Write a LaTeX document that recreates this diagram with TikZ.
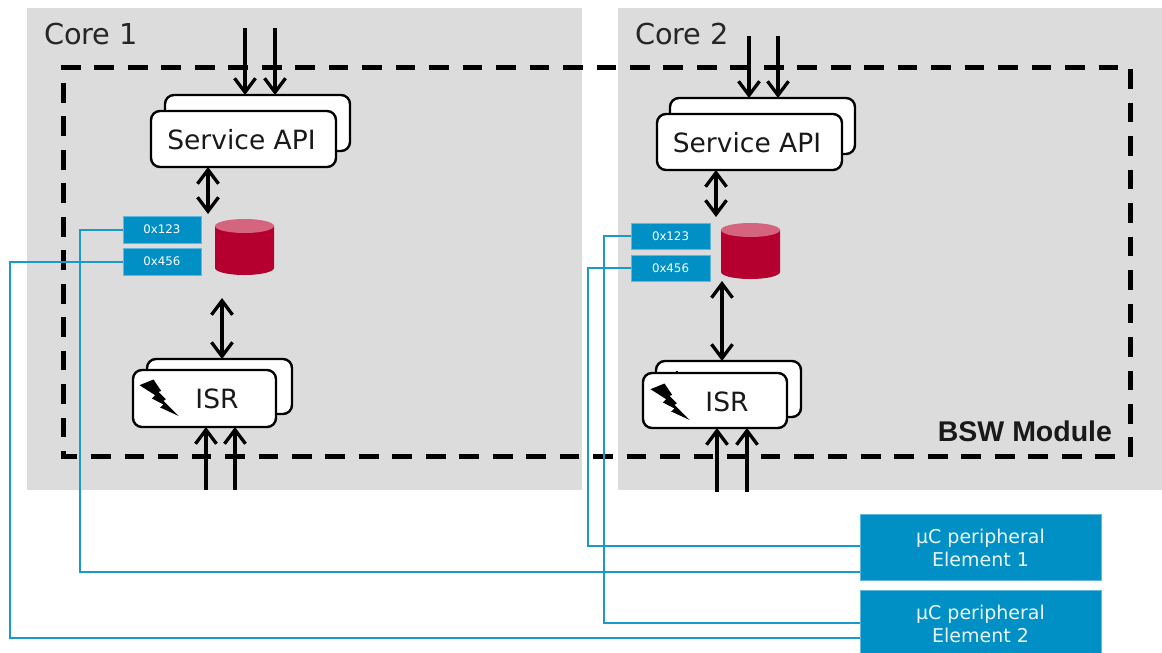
\documentclass[tikz,border=0pt]{standalone}
\usepackage{fontspec}
\setmainfont{DejaVu Sans}
\newfontfamily\armo{Liberation Sans}
\usetikzlibrary{arrows.meta}
\definecolor{coregray}{HTML}{DCDCDC}
\definecolor{ptblue}{HTML}{0090C5}
\definecolor{ptwire}{HTML}{1A9ACB}
\definecolor{ptedge}{HTML}{60B8DC}
\definecolor{cylred}{HTML}{B5002F}
\definecolor{cyltop}{HTML}{D5647F}
\tikzset{
  x=1pt,y=-1pt,
  every node/.style={outer sep=0pt},
  corebox/.style={fill=coregray,draw=none,inner sep=0,anchor=north west},
  corelabel/.style={font=\fontsize{28.8}{32}\selectfont,text=black!85,anchor=west,inner sep=0},
  roundbox/.style={draw=black,line width=2.4pt,fill=white,rounded corners=9pt,inner sep=0,anchor=north west},
  boxtext/.style={font=\fontsize{26.5}{30}\selectfont,text=black!90,inner sep=0},
  tag/.style={fill=ptblue,draw=ptedge,line width=.6pt,inner sep=0,anchor=north west,minimum width=78pt,minimum height=27pt,
     text=white,font=\fontsize{11.8}{13}\selectfont},
  periph/.style={fill=ptblue,draw=ptedge,line width=.6pt,inner sep=0,anchor=north west,minimum width=241pt,
     text=white!92!ptblue,font=\fontsize{19}{23}\selectfont,align=center},
  wire/.style={draw=ptwire,line width=2pt},
  arr/.style={draw=black,line width=3.3pt,-{Straight Barb[length=14pt,width=21pt,line width=3.3pt]}},
  dblarr/.style={draw=black,line width=3.3pt,{Straight Barb[length=14pt,width=21pt,line width=3.3pt]}-{Straight Barb[length=14pt,width=21pt,line width=3.3pt]}},
  dashline/.style={draw=black,line width=5pt,dash pattern=on 19.7pt off 13.77pt},
  bolt/.style={fill=black,draw=none},
}
\newcommand{\cylinderat}[2]{%
  \fill[cylred] (#1,#2+7) -- (#1,#2+49) arc[start angle=180,end angle=360,x radius=29.5pt,y radius=7pt] -- (#1+59,#2+7) -- cycle;
  \fill[cyltop] (#1+29.5,#2+7) ellipse[x radius=29.5pt,y radius=7pt];
}
\newcommand{\boltat}[2]{%
  \fill[bolt] (#1+0,#2+5.7) -- (#1+14,#2+0) -- (#1+21.7,#2+11.4) -- (#1+19,#2+12.4) -- (#1+26.4,#2+19.7) -- (#1+24,#2+21.4) -- (#1+39,#2+36.4)
     -- (#1+20.7,#2+28) -- (#1+24,#2+25) -- (#1+12.4,#2+19) -- (#1+15.7,#2+15.7) -- cycle;
}
\begin{document}
\begin{tikzpicture}
\useasboundingbox (0,0) rectangle (1162,653);
% core panels
\node[corebox,minimum width=555pt,minimum height=482pt] (core1) at (27,8) {};
\node[corebox,minimum width=544pt,minimum height=482pt] (core2) at (618,8) {};
\node[corelabel] (core1t) at (44,34) {Core 1};
\node[corelabel] (core2t) at (635,34) {Core 2};
% dashed module
\draw[dashline] (61,67.5) -- (1119,67.5);
\draw[dashline] (1130,69.3) -- (1130,458.5);
\draw[dashline] (1115,456) -- (61,456);
\draw[dashline] (63.3,83) -- (63.3,458.5);
\node[anchor=east,inner sep=0,font=\armo\bfseries\fontsize{28.5}{32}\selectfont,text=black!90] (bswt) at (1112,431) {BSW Module};
% core 1 service
\node[roundbox,minimum width=185pt,minimum height=56pt] (svcAb) at (165,95) {};
\node[roundbox,minimum width=185pt,minimum height=56pt] (svcAf) at (151,111) {};
\node[boxtext] (svcAt) at (241.5,139.5) {Service API};
% core 2 service
\node[roundbox,minimum width=185pt,minimum height=56pt] (svcBb) at (670,98) {};
\node[roundbox,minimum width=185pt,minimum height=56pt] (svcBf) at (657,114) {};
\node[boxtext] (svcBt) at (747,143) {Service API};
% core 1 isr
\node[roundbox,minimum width=145pt,minimum height=55pt] (isrAb) at (147,359) {};
\node[roundbox,minimum width=143pt,minimum height=57pt] (isrAf) at (133,370) {};
\boltat{139.5}{379.5}
\node[boxtext] (isrAt) at (217,399) {ISR};
% core 2 isr
\node[roundbox,minimum width=145pt,minimum height=56pt] (isrBb) at (656,361) {};
\fill[black] (676,371) rectangle (678,374);
\node[roundbox,minimum width=144pt,minimum height=55pt] (isrBf) at (643,373) {};
\boltat{650.5}{383.5}
\node[boxtext] (isrBt) at (727,402) {ISR};
% tags
\node[tag] (tagA1) at (123,216) {0x123};
\node[tag] (tagA2) at (123,248) {0x456};
\node[tag,minimum height=26pt,minimum width=79pt] (tagB1) at (631,223) {0x123};
\node[tag,minimum height=26pt,minimum width=79pt] (tagB2) at (631,255) {0x456};
% stores
\cylinderat{215}{219}
\cylinderat{721}{223}
\coordinate (cylB) at (722,281);
% peripherals
\node[periph,minimum height=66pt] (elem1) at (860,514.5) {µC peripheral\\Element 1};
\node[periph,minimum height=67pt] (elem2) at (860,590) {µC peripheral\\Element 2};
% wires
\coordinate (wA1) at (80,572);
\coordinate (wA2) at (10,638);
\coordinate (wB1) at (604,623);
\coordinate (wB2) at (588,546);
\draw[wire] (tagA1.west) -| (wA1) -- (wA1 -| elem1.west);
\draw[wire] (tagA2.west) -| (wA2) -- (wA2 -| elem2.west);
\draw[wire] (tagB1.west) -| (wB1) -- (wB1 -| elem2.west);
\draw[wire] (tagB2.west) -| (wB2) -- (wB2 -| elem1.west);
% arrows core 1
\coordinate (inA1) at (245,28);
\coordinate (inA2) at (275,28);
\draw[arr] (inA1) -- (inA1 |- svcAb.north);
\draw[arr] (inA2) -- (inA2 |- svcAb.north);
\coordinate (midA1) at (208,214);
\draw[dblarr] (midA1 |- svcAf.south) -- (midA1);
\coordinate (midA2) at (222,298);
\draw[dblarr] (midA2) -- (midA2 |- isrAb.north);
\coordinate (upA1) at (206,490);
\coordinate (upA2) at (235,490);
\draw[arr] (upA1) -- (upA1 |- isrAf.south);
\draw[arr] (upA2) -- (upA2 |- isrAf.south);
% arrows core 2
\coordinate (inB1) at (749,36);
\coordinate (inB2) at (778,36);
\draw[arr] (inB1) -- (inB1 |- svcBb.north);
\draw[arr] (inB2) -- (inB2 |- svcBb.north);
\coordinate (midB1) at (716,217);
\draw[dblarr] (midB1 |- svcBf.south) -- (midB1);
\draw[dblarr] (cylB) -- (cylB |- isrBb.north);
\coordinate (upB1) at (717,492);
\coordinate (upB2) at (747,492);
\draw[arr] (upB1) -- (upB1 |- isrBf.south);
\draw[arr] (upB2) -- (upB2 |- isrBf.south);
\end{tikzpicture}
\end{document}
